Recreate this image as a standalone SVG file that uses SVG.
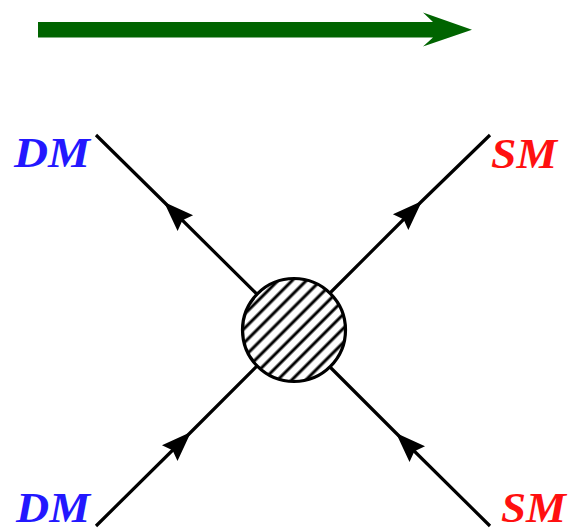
<svg xmlns="http://www.w3.org/2000/svg" width="570" height="531" viewBox="0 0 570 531">
<style>
.prop{fill:none;stroke:#000;stroke-width:3.2;marker-mid:url(#arr)}
.lbl{font-family:"Liberation Serif","Times New Roman",serif;font-weight:bold;font-style:italic;font-size:42px}
.dm{fill:#2318ff}
.sm{fill:#ff1010}
</style>
<defs>
<marker id="arr" markerUnits="userSpaceOnUse" orient="auto" refX="0" refY="0" markerWidth="40" markerHeight="40" style="overflow:visible">
<path d="M0,0 L-30,-11 L-26,0 L-30,11 Z" fill="#000"/>
</marker>
<pattern id="hatch" patternUnits="userSpaceOnUse" width="10" height="10" patternTransform="rotate(-45)">
<rect width="10" height="10" fill="#fff"/>
<line x1="0" y1="5" x2="10" y2="5" stroke="#000" stroke-width="3"/>
</pattern>
</defs>
<g id="direction-arrow">
<path d="M38,22 L433,22 L423,12.5 L472,29.7 L423,46.5 L433,37.5 L38,37.5 Z" fill="#006400"/>
</g>
<g id="connectors">
<path class="prop" d="M293,330 L164,202 L96,135"/>
<path class="prop" d="M293,330 L422,201 L490,135"/>
<path class="prop" d="M96,526 L191,432 L293,330"/>
<path class="prop" d="M490,526 L396,433 L293,330"/>
</g>
<g id="vertex">
<circle cx="294" cy="330" r="51.5" fill="url(#hatch)" stroke="#000" stroke-width="3.2"/>
</g>
<g id="dm-top"><text class="lbl dm" x="14" y="167" textLength="76" lengthAdjust="spacingAndGlyphs">DM</text></g>
<g id="dm-bottom"><text class="lbl dm" x="16" y="522" textLength="74" lengthAdjust="spacingAndGlyphs">DM</text></g>
<g id="sm-top"><text class="lbl sm" x="491" y="168" textLength="66" lengthAdjust="spacingAndGlyphs">SM</text></g>
<g id="sm-bottom"><text class="lbl sm" x="501" y="522" textLength="65" lengthAdjust="spacingAndGlyphs">SM</text></g>
</svg>
